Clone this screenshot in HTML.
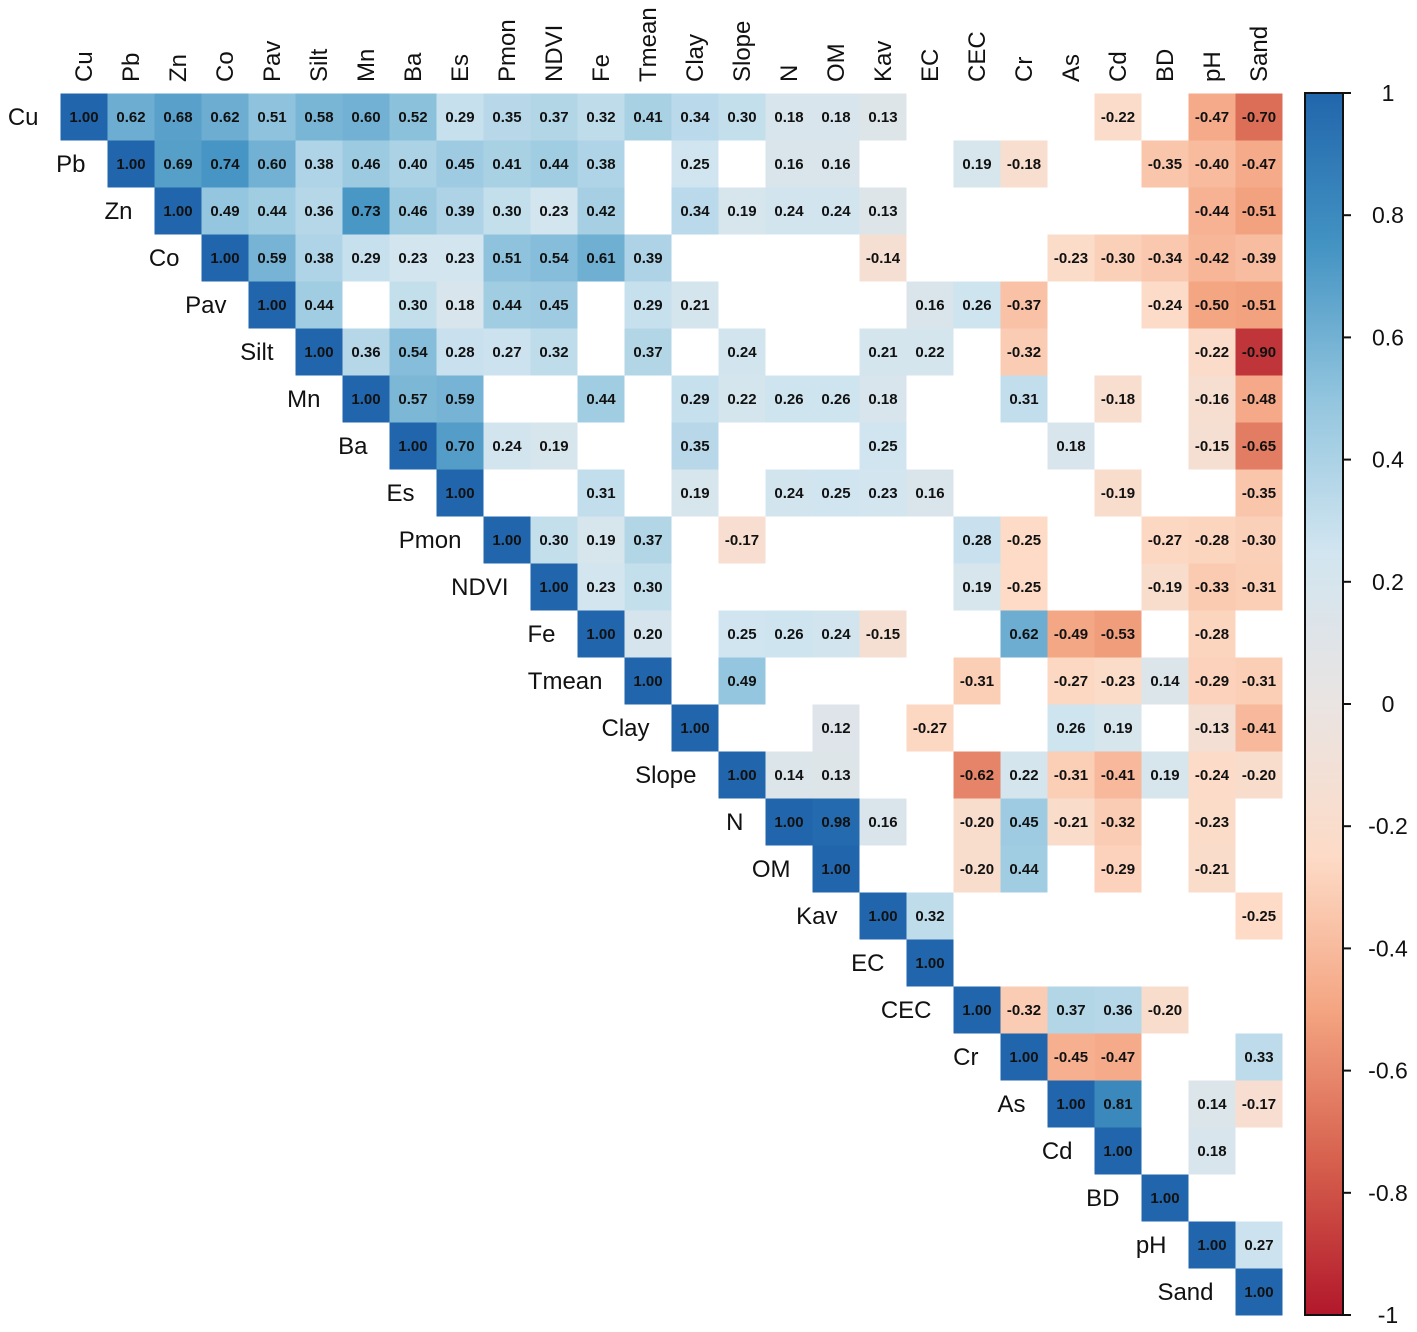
<!DOCTYPE html>
<html><head><meta charset="utf-8"><style>
html,body{margin:0;padding:0;background:#fff;}
svg{display:block;font-family:"Liberation Sans",Arial,sans-serif;}
</style></head><body>
<svg id="chart" width="1417" height="1332" viewBox="0 0 1417 1332" xmlns="http://www.w3.org/2000/svg"></svg>
<script>
const labels = ["Cu","Pb","Zn","Co","Pav","Silt","Mn","Ba","Es","Pmon","NDVI","Fe","Tmean","Clay","Slope","N","OM","Kav","EC","CEC","Cr","As","Cd","BD","pH","Sand"];
const rowCu   = [["Cu",1],["Pb",0.62],["Zn",0.68],["Co",0.62],["Pav",0.51],["Silt",0.58],["Mn",0.60],["Ba",0.52],["Es",0.29],["Pmon",0.35],["NDVI",0.37],["Fe",0.32],["Tmean",0.41],["Clay",0.34],["Slope",0.30],["N",0.18],["OM",0.18],["Kav",0.13],["Cd",-0.22],["pH",-0.47],["Sand",-0.70]];
const rowPb   = [["Pb",1],["Zn",0.69],["Co",0.74],["Pav",0.60],["Silt",0.38],["Mn",0.46],["Ba",0.40],["Es",0.45],["Pmon",0.41],["NDVI",0.44],["Fe",0.38],["Clay",0.25],["N",0.16],["OM",0.16],["CEC",0.19],["Cr",-0.18],["BD",-0.35],["pH",-0.40],["Sand",-0.47]];
const rowZn   = [["Zn",1],["Co",0.49],["Pav",0.44],["Silt",0.36],["Mn",0.73],["Ba",0.46],["Es",0.39],["Pmon",0.30],["NDVI",0.23],["Fe",0.42],["Clay",0.34],["Slope",0.19],["N",0.24],["OM",0.24],["Kav",0.13],["pH",-0.44],["Sand",-0.51]];
const rowCo   = [["Co",1],["Pav",0.59],["Silt",0.38],["Mn",0.29],["Ba",0.23],["Es",0.23],["Pmon",0.51],["NDVI",0.54],["Fe",0.61],["Tmean",0.39],["Kav",-0.14],["As",-0.23],["Cd",-0.30],["BD",-0.34],["pH",-0.42],["Sand",-0.39]];
const rowPav  = [["Pav",1],["Silt",0.44],["Ba",0.30],["Es",0.18],["Pmon",0.44],["NDVI",0.45],["Tmean",0.29],["Clay",0.21],["EC",0.16],["CEC",0.26],["Cr",-0.37],["BD",-0.24],["pH",-0.50],["Sand",-0.51]];
const rowSilt = [["Silt",1],["Mn",0.36],["Ba",0.54],["Es",0.28],["Pmon",0.27],["NDVI",0.32],["Tmean",0.37],["Slope",0.24],["Kav",0.21],["EC",0.22],["Cr",-0.32],["pH",-0.22],["Sand",-0.90]];
const rowMn   = [["Mn",1],["Ba",0.57],["Es",0.59],["Fe",0.44],["Clay",0.29],["Slope",0.22],["N",0.26],["OM",0.26],["Kav",0.18],["Cr",0.31],["Cd",-0.18],["pH",-0.16],["Sand",-0.48]];
const rowBa   = [["Ba",1],["Es",0.70],["Pmon",0.24],["NDVI",0.19],["Clay",0.35],["Kav",0.25],["As",0.18],["pH",-0.15],["Sand",-0.65]];
const rowEs   = [["Es",1],["Fe",0.31],["Clay",0.19],["N",0.24],["OM",0.25],["Kav",0.23],["EC",0.16],["Cd",-0.19],["Sand",-0.35]];
const rowPmon = [["Pmon",1],["NDVI",0.30],["Fe",0.19],["Tmean",0.37],["Slope",-0.17],["CEC",0.28],["Cr",-0.25],["BD",-0.27],["pH",-0.28],["Sand",-0.30]];
const rowNDVI = [["NDVI",1],["Fe",0.23],["Tmean",0.30],["CEC",0.19],["Cr",-0.25],["BD",-0.19],["pH",-0.33],["Sand",-0.31]];
const rowFe   = [["Fe",1],["Tmean",0.20],["Slope",0.25],["N",0.26],["OM",0.24],["Kav",-0.15],["Cr",0.62],["As",-0.49],["Cd",-0.53],["pH",-0.28]];
const rowTmean= [["Tmean",1],["Slope",0.49],["CEC",-0.31],["As",-0.27],["Cd",-0.23],["BD",0.14],["pH",-0.29],["Sand",-0.31]];
const rowClay = [["Clay",1],["OM",0.12],["EC",-0.27],["As",0.26],["Cd",0.19],["pH",-0.13],["Sand",-0.41]];
const rowSlope= [["Slope",1],["N",0.14],["OM",0.13],["CEC",-0.62],["Cr",0.22],["As",-0.31],["Cd",-0.41],["BD",0.19],["pH",-0.24],["Sand",-0.20]];
const rowN    = [["N",1],["OM",0.98],["Kav",0.16],["CEC",-0.20],["Cr",0.45],["As",-0.21],["Cd",-0.32],["pH",-0.23]];
const rowOM   = [["OM",1],["CEC",-0.20],["Cr",0.44],["Cd",-0.29],["pH",-0.21]];
const rowKav  = [["Kav",1],["EC",0.32],["Sand",-0.25]];
const rowEC   = [["EC",1]];
const rowCEC  = [["CEC",1],["Cr",-0.32],["As",0.37],["Cd",0.36],["BD",-0.20]];
const rowCr   = [["Cr",1],["As",-0.45],["Cd",-0.47],["Sand",0.33]];
const rowAs   = [["As",1],["Cd",0.81],["pH",0.14],["Sand",-0.17]];
const rowCd   = [["Cd",1],["pH",0.18]];
const rowBD   = [["BD",1]];
const rowpH   = [["pH",1],["Sand",0.27]];
const rowSand = [["Sand",1]];
const rows = [rowCu,rowPb,rowZn,rowCo,rowPav,rowSilt,rowMn,rowBa,rowEs,rowPmon,rowNDVI,rowFe,rowTmean,rowClay,rowSlope,rowN,rowOM,rowKav,rowEC,rowCEC,rowCr,rowAs,rowCd,rowBD,rowpH,rowSand];
const barTicks = [1,0.8,0.6,0.4,0.2,0,-0.2,-0.4,-0.6,-0.8,-1];

const NS="http://www.w3.org/2000/svg";
const svg=document.getElementById('chart');
const X0=60.5, Y0=93.5, CW=47;
const xPos=i=>X0+i*CW, yPos=i=>Y0+i*CW;
const stops=["#B2182B","#D6604D","#F4A582","#FDDBC7","#EAE4E2","#D1E5F0","#92C5DE","#4393C3","#2166AC"];
function hex(h){return [1,3,5].map(k=>parseInt(h.substr(k,2),16));}
function color(v){const t=(v+1)/2*(stops.length-1);const i=Math.min(stops.length-2,Math.floor(t));const f=t-i;const a=hex(stops[i]),b=hex(stops[i+1]);return "rgb("+a.map((c,k)=>Math.round(c+(b[k]-c)*f)).join(",")+")";}
function mk(tag,attrs){const e=document.createElementNS(NS,tag);for(const k in attrs)e.setAttribute(k,attrs[k]);svg.appendChild(e);return e;}

rows.forEach((row,r)=>{
  row.forEach(([cn,v])=>{
    const c=labels.indexOf(cn);
    const rect=mk('rect',{x:xPos(c),y:yPos(r),width:CW,height:CW,fill:color(v)});
    
    
    const t=mk('text',{x:xPos(c)+CW/2,y:yPos(r)+CW/2+5,'text-anchor':'middle','font-size':15,'font-weight':'bold',fill:'#111'});
    t.textContent=v.toFixed(2);
    
    
  });
});
labels.forEach((l,i)=>{
  const t=mk('text',{x:xPos(i)-22,y:yPos(i)+CW/2+8,'text-anchor':'end','font-size':24,fill:'#111'});
  t.textContent=l;
  
  
  const cx=xPos(i)+CW/2+8;
  const t2=mk('text',{x:cx,y:82,'text-anchor':'start','font-size':24,fill:'#111',transform:'rotate(-90 '+cx+' 82)'});
  t2.textContent=l;
  
  
});
const BX=1305,BW=38,BT=93,BB=1315;
const defs=mk('defs',{});
const lg=document.createElementNS(NS,'linearGradient');lg.setAttribute('id','cg');lg.setAttribute('x1','0');lg.setAttribute('y1','1');lg.setAttribute('x2','0');lg.setAttribute('y2','0');
stops.forEach((s,i)=>{const st=document.createElementNS(NS,'stop');st.setAttribute('offset',i/(stops.length-1));st.setAttribute('stop-color',s);lg.appendChild(st);});
defs.appendChild(lg);
const bar=mk('rect',{x:BX,y:BT,width:BW,height:BB-BT,fill:'url(#cg)',stroke:'#111','stroke-width':2});


const by=v=>BT+(1-v)/2*(BB-BT);
barTicks.forEach(v=>{
  mk('line',{x1:BX+BW,x2:BX+BW+8,y1:by(v),y2:by(v),stroke:'#111','stroke-width':2});
  const t=mk('text',{x:1388,y:by(v)+8,'text-anchor':'middle','font-size':23,fill:'#111'});
  t.textContent=String(v);
  
  
});
</script>
</body></html>
